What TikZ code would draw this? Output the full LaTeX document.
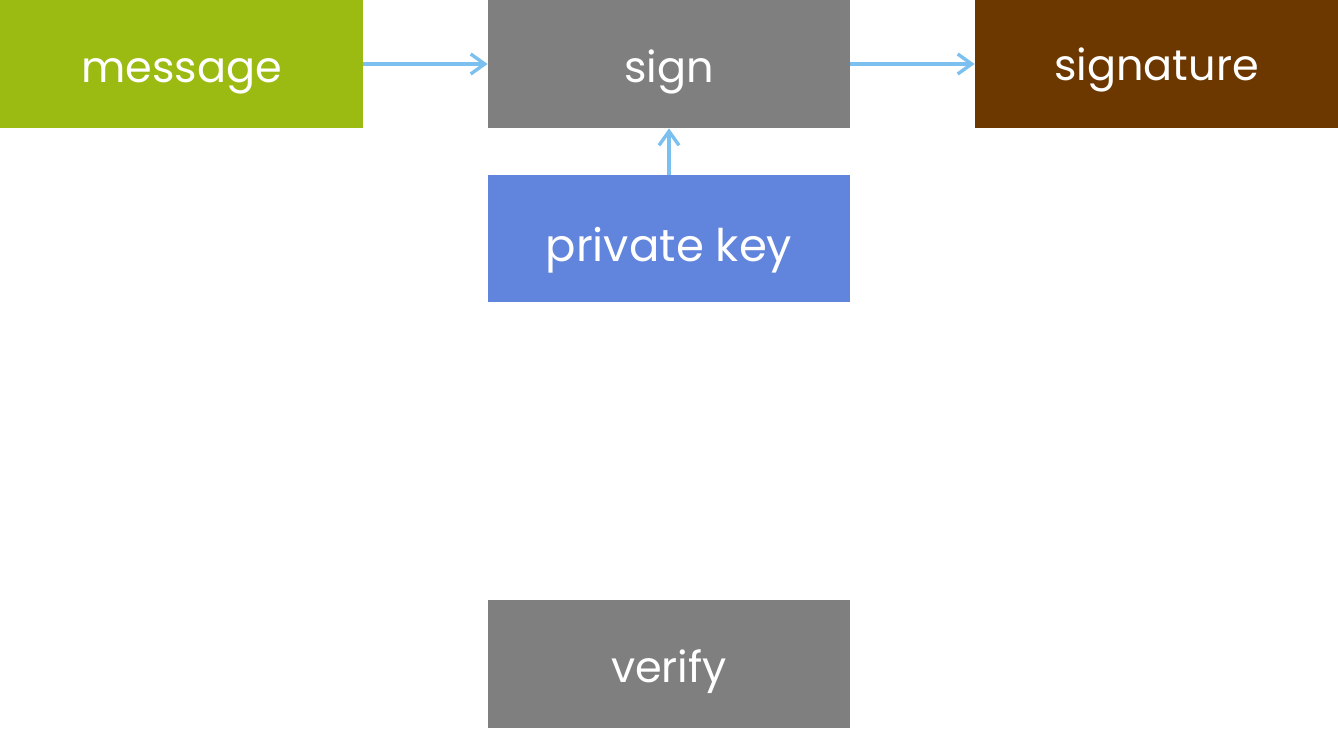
\documentclass[tikz,border=0pt]{standalone}
\usepackage{fontspec}
\setmainfont{Poppins}
\usetikzlibrary{arrows.meta}
\definecolor{cmsg}{HTML}{9BBB12}
\definecolor{cgray}{HTML}{7F7F7F}
\definecolor{csig}{HTML}{6D3800}
\definecolor{ckey}{HTML}{6184DD}
\definecolor{carrow}{HTML}{7BC0EE}
\tikzset{
  box/.style={rectangle, inner sep=0pt, minimum width=181pt, minimum height=64pt, text=white,
    text height=18pt, text depth=0pt, font=\fontsize{21.5}{26}\selectfont},
  link/.style={draw=carrow, line width=1.7pt, -{Straight Barb[length=7pt,width=10pt,line width=1.7pt]}}
}
\begin{document}
\begin{tikzpicture}
\useasboundingbox (0,0) rectangle (669pt,-364pt);
\node[box, fill=cmsg, minimum width=181.5pt] (msg) at (90.75pt,-32pt) {message};
\node[box, fill=cgray] (sign) at (334.5pt,-32pt) {sign};
\node[box, fill=csig, minimum width=181.5pt, text height=16pt] (sig) at (578.25pt,-32pt) {signature};
\node[box, fill=ckey, minimum height=63.5pt, text height=23pt, font=\fontsize{22.5}{27}\selectfont] (key) at (334.5pt,-119.25pt) {private key};
\node[box, fill=cgray] (ver) at (334.5pt,-332pt) {verify};
\draw[link] (msg) -- (sign);
\draw[link] (sign) -- (sig);
\draw[link] (key) -- (sign);
\end{tikzpicture}
\end{document}
